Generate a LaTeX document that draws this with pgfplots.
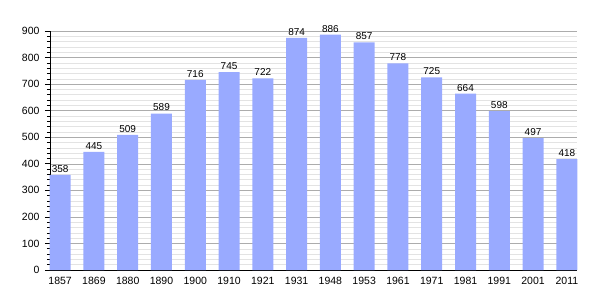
\documentclass[border=0pt]{standalone}
\usepackage{fontspec}
\setmainfont{Liberation Sans}
\usepackage{pgfplots}
\pgfplotsset{compat=1.18}
\definecolor{barblue}{HTML}{99AAFF}
\begin{document}
\begin{tikzpicture}[x=1pt,y=1pt]
\path[draw=none] (-50pt,-30pt) rectangle (555pt,270pt);
\begin{axis}[
  at={(0pt,0pt)}, anchor=south west,
  scale only axis, width=527pt, height=239pt,
  xmin=-0.3, xmax=15.3, ymin=0, ymax=900,
  axis x line*=bottom, axis y line*=left,
  axis line style={black, line width=0.8pt},
  xtick={0,...,15},
  xticklabels={1857,1869,1880,1890,1900,1910,1921,1931,1948,1953,1961,1971,1981,1991,2001,2011},
  x tick style={draw=none},
  ytick={0,100,...,900},
  minor y tick num=4,
  y tick style={black, line width=0.6pt},
  major tick length=5pt, minor tick length=3pt,
  tick align=outside,
  ymajorgrids, yminorgrids,
  major grid style={gray!65, line width=0.5pt},
  minor grid style={gray!22, line width=0.5pt},
  tick label style={font=\fontsize{10.5}{12}\selectfont},
  /pgf/number format/assume math mode=true,
  yticklabel style={xshift=-2pt},
  xticklabel style={yshift=1pt},
  nodes near coords,
  nodes near coords style={font=\fontsize{10}{12}\selectfont, black, yshift=-1pt},
  clip=false,
]
\addplot[ybar, bar width=21pt, fill=barblue, draw=none] coordinates {
(0,358) (1,445) (2,509) (3,589) (4,716) (5,745) (6,722) (7,874)
(8,886) (9,857) (10,778) (11,725) (12,664) (13,598) (14,497) (15,418)};
\end{axis}
\end{tikzpicture}
\end{document}
